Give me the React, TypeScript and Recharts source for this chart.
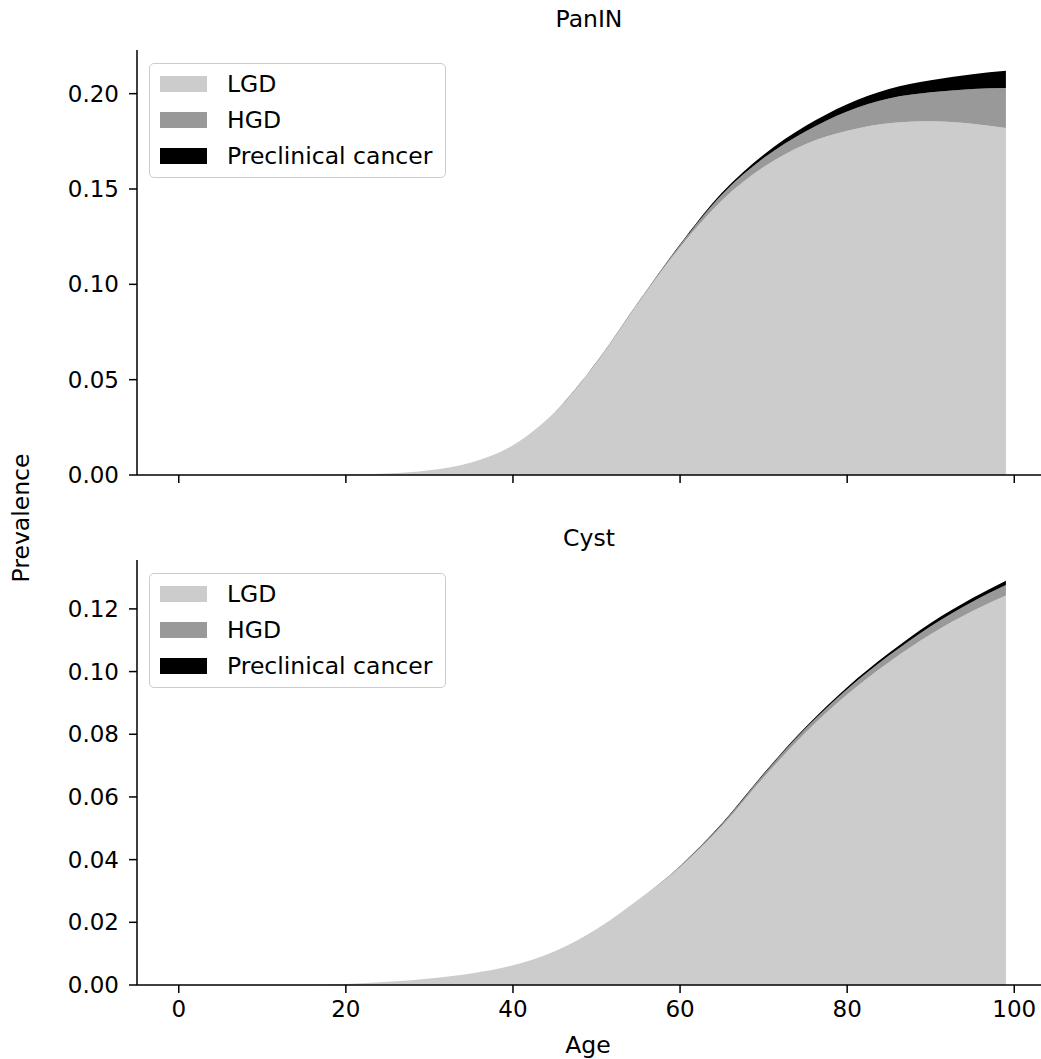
import React from 'react';
import { AreaChart, Area, XAxis, YAxis } from 'recharts';

const ages = [0, 5, 10, 15, 20, 25, 30, 35, 40, 45, 50, 55, 60, 65, 70, 75, 80, 85, 90, 95, 99];

const panLgd = [0, 0, 0, 0, 0.0002, 0.0008, 0.0025, 0.0066, 0.0156, 0.0328, 0.0589, 0.0902, 0.1195, 0.144, 0.1615, 0.1735, 0.1805, 0.1845, 0.1855, 0.1842, 0.182];
const panHgd = [0, 0, 0, 0, 0, 0, 0, 0, 0, 0.0001, 0.0002, 0.0004, 0.0011, 0.003, 0.0047, 0.0067, 0.0102, 0.013, 0.0152, 0.0183, 0.021];
const panPre = [0, 0, 0, 0, 0, 0, 0, 0, 0, 0, 0.0001, 0.0001, 0.0004, 0.001, 0.0018, 0.0028, 0.0038, 0.005, 0.0063, 0.0077, 0.009];

const cystLgd = [0, 0, 0, 0, 0.0003, 0.001, 0.0021, 0.0037, 0.0063, 0.0108, 0.0177, 0.0271, 0.0376, 0.0507, 0.0662, 0.0805, 0.0927, 0.103, 0.1119, 0.1193, 0.1243];
const cystHgd = [0, 0, 0, 0, 0, 0, 0, 0, 0, 0, 0.0001, 0.0001, 0.0003, 0.0006, 0.001, 0.0013, 0.0017, 0.0021, 0.0026, 0.003, 0.0033];
const cystPre = [0, 0, 0, 0, 0, 0, 0, 0, 0, 0, 0, 0, 0.0001, 0.0002, 0.0003, 0.0004, 0.0006, 0.0008, 0.001, 0.0012, 0.0014];

const xTicks = [0, 20, 40, 60, 80, 100];
const panTicks = [0, 0.05, 0.1, 0.15, 0.2];
const cystTicks = [0, 0.02, 0.04, 0.06, 0.08, 0.1, 0.12];

const seriesNames = ['LGD', 'HGD', 'Preclinical cancer'];
const colors = ['#cccccc', '#999999', '#000000'];

const FONT = '"DejaVu Sans", sans-serif';
const FS = 23.5;

const build = (lgd: number[], hgd: number[], pre: number[]) =>
    ages.map((age, i) => ({ age, lgd: lgd[i], hgd: hgd[i], pre: pre[i] }));

const panData = build(panLgd, panHgd, panPre);
const cystData = build(cystLgd, cystHgd, cystPre);

const tickStyle = { fontSize: 23, fill: '#000', fontFamily: FONT };
const axisLine = { stroke: '#000', strokeWidth: 1.5 };

const LegendBox: React.FC<{ top: number }> = ({ top }) => (
    <div
        style={{
            position: 'absolute',
            left: 149,
            top,
            width: 297,
            height: 115,
            boxSizing: 'border-box',
            border: '1.5px solid #cccccc',
            borderRadius: 5,
            background: 'rgba(255,255,255,0.8)',
            fontFamily: FONT,
            fontSize: FS,
        }}
    >
        {seriesNames.map((n, i) => (
            <div key={n} style={{ position: 'absolute', left: 0, top: 20 + i * 36 - 14, height: 28, display: 'flex', alignItems: 'center' }}>
                <div style={{ width: 47, height: 16, background: colors[i], marginLeft: 10 }} />
                <span style={{ marginLeft: 20, lineHeight: '28px', whiteSpace: 'nowrap' }}>{n}</span>
            </div>
        ))}
    </div>
);

const Panel: React.FC<{
    data: any[];
    height: number;
    top: number;
    marginTop: number;
    xHeight: number;
    yMax: number;
    yTicks: number[];
    showXLabels: boolean;
}> = ({ data, height, top, marginTop, xHeight, yMax, yTicks, showXLabels }) => (
    <div style={{ position: 'absolute', left: 0, top }}>
        <AreaChart width={1041} height={height} data={data} margin={{ top: marginTop, right: 0, left: 0, bottom: 0 }}>
            <XAxis
                dataKey="age"
                type="number"
                domain={[-5, 103.2]}
                allowDataOverflow
                ticks={xTicks}
                height={xHeight}
                tick={tickStyle}
                tickSize={8}
                tickMargin={8}
                axisLine={axisLine}
                tickLine={axisLine}
                tickFormatter={(v) => (showXLabels ? String(v) : '')}
            />
            <YAxis
                type="number"
                domain={[0, yMax]}
                allowDataOverflow
                ticks={yTicks}
                width={137}
                tick={tickStyle}
                tickSize={8}
                tickMargin={10}
                axisLine={axisLine}
                tickLine={axisLine}
                tickFormatter={(v: number) => v.toFixed(2)}
            />
            <Area type="monotone" dataKey="lgd" stackId="a" name="LGD" fill={colors[0]} fillOpacity={1} stroke="none" isAnimationActive={false} dot={false} activeDot={false} />
            <Area type="monotone" dataKey="hgd" stackId="a" name="HGD" fill={colors[1]} fillOpacity={1} stroke="none" isAnimationActive={false} dot={false} activeDot={false} />
            <Area type="monotone" dataKey="pre" stackId="a" name="Preclinical cancer" fill={colors[2]} fillOpacity={1} stroke="none" isAnimationActive={false} dot={false} activeDot={false} />
        </AreaChart>
    </div>
);

const Title: React.FC<{ text: string; y: number }> = ({ text, y }) => (
    <div style={{ position: 'absolute', left: 137, width: 904, top: y - 15, height: 30, lineHeight: '30px', textAlign: 'center', fontFamily: FONT, fontSize: FS }}>
        {text}
    </div>
);

export default function App() {
    return (
        <div style={{ position: 'absolute', left: 0, top: 0, width: 1041, height: 1059, background: '#fff', overflow: 'hidden' }}>
            <Panel data={panData} height={500} top={0} marginTop={50} xHeight={25} yMax={0.2229} yTicks={panTicks} showXLabels={false} />
            <Panel data={cystData} height={559} top={500} marginTop={60} xHeight={74} yMax={0.1356} yTicks={cystTicks} showXLabels={true} />
            <Title text="PanIN" y={19} />
            <Title text="Cyst" y={538} />
            <LegendBox top={63} />
            <LegendBox top={573} />
            <div style={{ position: 'absolute', left: 588 - 50, width: 100, top: 1030, height: 30, lineHeight: '30px', textAlign: 'center', fontFamily: FONT, fontSize: FS }}>
                Age
            </div>
            <div
                style={{
                    position: 'absolute',
                    left: 21 - 100,
                    top: 518 - 15,
                    width: 200,
                    height: 30,
                    lineHeight: '30px',
                    textAlign: 'center',
                    fontFamily: FONT,
                    fontSize: FS,
                    transform: 'rotate(-90deg)',
                }}
            >
                Prevalence
            </div>
        </div>
    );
}
